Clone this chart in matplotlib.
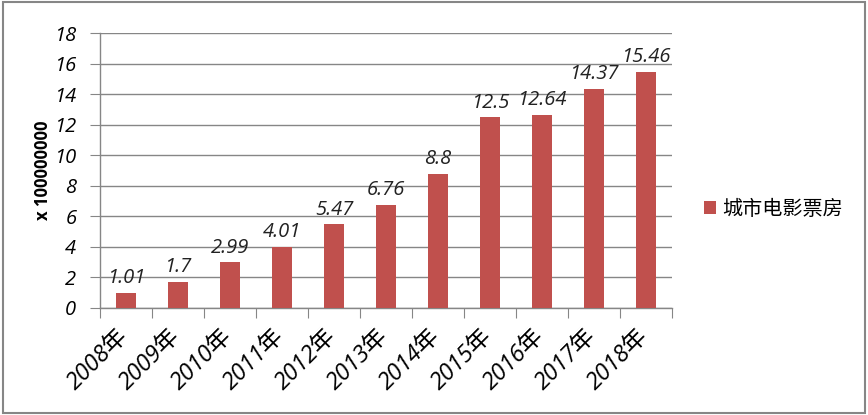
import matplotlib
matplotlib.use('Agg')
import matplotlib.pyplot as plt
import matplotlib.transforms as mtransforms
from matplotlib.patches import Rectangle

plt.rcParams['font.family'] = ['Open Sans', 'Noto Sans CJK SC', 'DejaVu Sans']

years = ['2008年', '2009年', '2010年', '2011年', '2012年', '2013年',
         '2014年', '2015年', '2016年', '2017年', '2018年']
box_office = [1.01, 1.7, 2.99, 4.01, 5.47, 6.76, 8.8, 12.5, 12.64, 14.37, 15.46]
value_labels = ['1.01', '1.7', '2.99', '4.01', '5.47', '6.76', '8.8', '12.5', '12.64', '14.37', '15.46']
series_name = '城市电影票房'
y_ticks = [0, 2, 4, 6, 8, 10, 12, 14, 16, 18]

bar_color = '#C0504D'
grid_color = '#868686'

fig = plt.figure(figsize=(8.68, 4.15), dpi=100)
ax = fig.add_axes([0.1152, 0.258, 0.659, 0.662])

x = list(range(len(years)))
bars = ax.bar(x, box_office, width=0.4, color=bar_color, zorder=3, label=series_name)

for xi, v, lab in zip(x, box_office, value_labels):
    ax.text(xi, v + 0.3, lab, ha='center', va='bottom', fontsize=14.5,
            style='italic', color='#222222')

ax.set_xlim(-0.5, len(years) - 0.5)
ax.set_ylim(0, 18)
ax.set_yticks(y_ticks)
ax.set_yticklabels([str(t) for t in y_ticks], fontsize=14.5, style='italic')
ax.yaxis.grid(True, color=grid_color, linewidth=1, zorder=0)
ax.tick_params(axis='y', length=7, color=grid_color, pad=10)

# category boundary ticks
ax.set_xticks([i - 0.5 for i in range(len(years) + 1)], minor=False)
ax.set_xticklabels([])
ax.tick_params(axis='x', which='major', length=7, color=grid_color, direction='out')
ax.set_xticks(x, minor=True)
ax.set_xticklabels(years, minor=True, rotation=45, ha='right', va='top',
                   rotation_mode='anchor', fontsize=17, style='italic')
ax.tick_params(axis='x', which='minor', length=0, pad=12)
shift = mtransforms.ScaledTranslation(-10 / 100, 0, fig.dpi_scale_trans)
for lbl in ax.get_xticklabels(minor=True):
    lbl.set_transform(lbl.get_transform() + shift)

for side in ['top', 'right']:
    ax.spines[side].set_visible(False)
for side in ['left', 'bottom']:
    ax.spines[side].set_color(grid_color)
    ax.spines[side].set_linewidth(1)

fig.text(0.049, 0.589, 'x 100000000', rotation=90, ha='center', va='center',
         fontsize=12, fontweight='bold')

fig.legend(handles=[bars], labels=[series_name], loc='center left',
           bbox_to_anchor=(0.79, 0.494), frameon=False, fontsize=14.5,
           handlelength=0.6, handleheight=0.6, handletextpad=0.3)

fig.patches.append(Rectangle((0.003, 0.006), 0.994, 0.99, transform=fig.transFigure,
                             fill=False, edgecolor='#868686', linewidth=1.5))

fig.savefig('out.png', dpi=100)
